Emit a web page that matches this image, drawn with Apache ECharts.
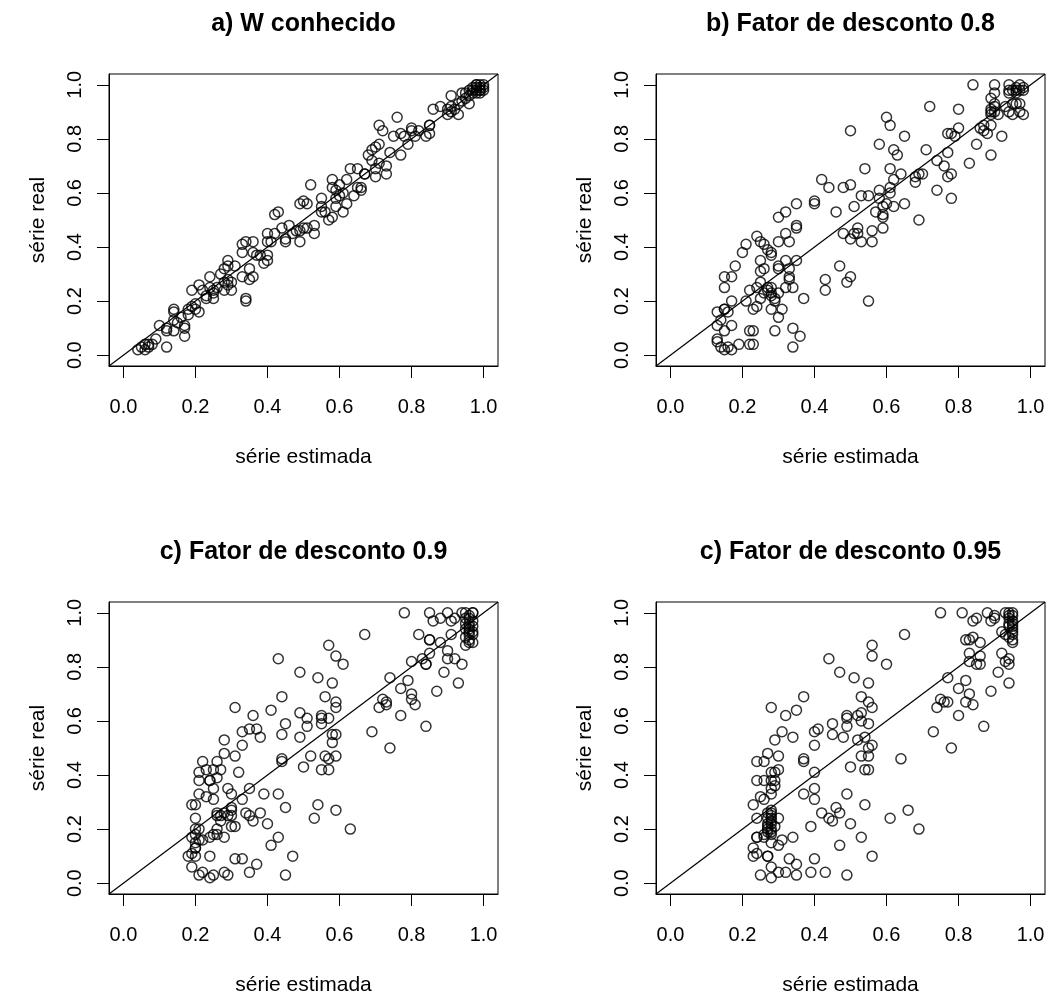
<!DOCTYPE html>
<html>
<head>
<meta charset="utf-8">
<script src="https://cdn.jsdelivr.net/npm/echarts@6/dist/echarts.min.js"></script>
<style>
  html, body { margin: 0; padding: 0; background: #fff; }
  #chart { width: 1055px; height: 998px; }
</style>
</head>
<body>
<div id="chart"></div>
<script>
// panel titles and axis names
var titles = ['a) W conhecido', 'b) Fator de desconto 0.8', 'c) Fator de desconto 0.9', 'c) Fator de desconto 0.95'];
var xName = 'série estimada';
var yName = 'série real';
var tickValues = [0, 0.2, 0.4, 0.6, 0.8, 1.0];

// [série estimada, série real]
var pointsA = [
  [0.04,0.02],[0.05,0.03],[0.06,0.04],[0.07,0.04],[0.07,0.03],[0.06,0.02],[0.08,0.04],[0.09,0.06],[0.12,0.03],
  [0.10,0.11],[0.12,0.09],[0.12,0.10],[0.14,0.17],[0.14,0.16],[0.14,0.13],[0.15,0.12],[0.14,0.09],[0.17,0.11],
  [0.17,0.10],[0.17,0.07],[0.16,0.14],[0.18,0.15],[0.18,0.17],[0.19,0.18],[0.20,0.17],[0.21,0.16],[0.20,0.19],
  [0.19,0.24],[0.21,0.26],[0.22,0.24],[0.23,0.22],[0.23,0.21],[0.24,0.25],[0.24,0.29],[0.25,0.23],[0.25,0.21],
  [0.25,0.24],[0.26,0.25],[0.27,0.30],[0.28,0.27],[0.28,0.24],[0.29,0.26],[0.29,0.28],[0.30,0.27],[0.30,0.24],
  [0.29,0.33],[0.29,0.35],[0.31,0.33],[0.28,0.32],[0.34,0.21],[0.34,0.20],[0.33,0.29],[0.35,0.28],[0.36,0.29],
  [0.35,0.32],[0.33,0.38],[0.33,0.41],[0.34,0.42],[0.36,0.42],[0.36,0.38],[0.37,0.37],[0.38,0.37],[0.39,0.34],
  [0.40,0.35],[0.40,0.37],[0.40,0.45],[0.40,0.42],[0.41,0.42],[0.42,0.52],[0.43,0.53],[0.42,0.45],[0.44,0.47],
  [0.45,0.42],[0.45,0.43],[0.46,0.48],[0.47,0.45],[0.49,0.42],[0.48,0.46],[0.49,0.46],[0.50,0.47],[0.51,0.47],
  [0.53,0.45],[0.53,0.48],[0.49,0.56],[0.50,0.57],[0.51,0.56],[0.52,0.63],[0.55,0.58],[0.55,0.55],[0.55,0.53],
  [0.56,0.53],[0.57,0.50],[0.58,0.65],[0.58,0.62],[0.58,0.51],[0.59,0.58],[0.59,0.61],[0.59,0.55],[0.60,0.63],
  [0.60,0.59],[0.61,0.53],[0.61,0.60],[0.62,0.56],[0.62,0.65],[0.63,0.69],[0.64,0.59],[0.65,0.62],[0.65,0.69],
  [0.66,0.62],[0.66,0.61],[0.67,0.67],[0.67,0.67],[0.68,0.74],[0.69,0.72],[0.69,0.76],[0.70,0.77],[0.70,0.69],
  [0.70,0.66],[0.71,0.71],[0.71,0.78],[0.73,0.67],[0.73,0.70],[0.74,0.75],[0.71,0.85],[0.72,0.83],[0.75,0.81],
  [0.76,0.88],[0.77,0.74],[0.77,0.82],[0.78,0.81],[0.79,0.78],[0.80,0.84],[0.80,0.83],[0.81,0.81],[0.82,0.83],
  [0.84,0.81],[0.85,0.82],[0.85,0.85],[0.85,0.85],[0.86,0.91],[0.88,0.92],[0.90,0.91],[0.90,0.89],[0.91,0.92],
  [0.91,0.96],[0.91,0.90],[0.92,0.91],[0.93,0.89],[0.93,0.93],[0.94,0.97],[0.94,0.94],[0.95,0.95],[0.95,0.97],
  [0.96,0.93],[0.96,0.98],[0.97,0.97],[0.97,0.99],[0.98,0.99],[0.98,1.00],[0.98,1.00],[0.99,1.00],[0.99,0.98],
  [0.99,0.97],[0.98,0.98],[1.00,1.00],[1.00,0.98],[0.99,0.99],[0.98,0.97],[1.00,0.99],[0.97,0.98],[0.99,0.98],
  [0.96,0.96]
];

var pointsB = [
  [0.13,0.06],[0.13,0.05],[0.14,0.03],[0.15,0.02],[0.16,0.03],[0.17,0.02],[0.19,0.04],[0.22,0.04],[0.23,0.04],
  [0.22,0.09],[0.23,0.09],[0.29,0.09],[0.34,0.03],[0.34,0.10],[0.36,0.07],[0.13,0.11],[0.14,0.13],[0.15,0.09],
  [0.17,0.11],[0.13,0.16],[0.15,0.17],[0.15,0.17],[0.16,0.16],[0.17,0.20],[0.15,0.25],[0.15,0.29],[0.17,0.29],
  [0.18,0.33],[0.21,0.20],[0.22,0.24],[0.23,0.17],[0.24,0.18],[0.24,0.25],[0.25,0.27],[0.25,0.21],[0.26,0.23],
  [0.27,0.24],[0.27,0.25],[0.28,0.22],[0.28,0.25],[0.28,0.23],[0.29,0.20],[0.29,0.21],[0.30,0.23],[0.28,0.17],
  [0.31,0.17],[0.30,0.14],[0.32,0.25],[0.33,0.28],[0.33,0.29],[0.34,0.25],[0.37,0.21],[0.25,0.31],[0.25,0.35],
  [0.26,0.32],[0.30,0.32],[0.30,0.33],[0.32,0.35],[0.33,0.32],[0.35,0.35],[0.20,0.38],[0.21,0.41],[0.24,0.44],
  [0.25,0.42],[0.26,0.41],[0.27,0.39],[0.28,0.38],[0.28,0.37],[0.30,0.42],[0.33,0.42],[0.32,0.45],[0.35,0.47],
  [0.35,0.48],[0.30,0.51],[0.32,0.53],[0.35,0.56],[0.40,0.56],[0.40,0.57],[0.42,0.65],[0.44,0.62],[0.46,0.53],
  [0.48,0.45],[0.48,0.62],[0.50,0.43],[0.50,0.63],[0.51,0.45],[0.52,0.47],[0.52,0.45],[0.53,0.42],[0.56,0.42],
  [0.56,0.46],[0.50,0.83],[0.43,0.28],[0.43,0.24],[0.47,0.33],[0.49,0.27],[0.50,0.29],[0.55,0.20],[0.51,0.55],
  [0.53,0.59],[0.54,0.69],[0.55,0.59],[0.57,0.53],[0.58,0.61],[0.58,0.58],[0.58,0.78],[0.59,0.55],[0.59,0.51],
  [0.59,0.52],[0.59,0.47],[0.60,0.56],[0.60,0.88],[0.61,0.85],[0.61,0.60],[0.61,0.69],[0.61,0.62],[0.62,0.76],
  [0.62,0.55],[0.62,0.65],[0.63,0.74],[0.64,0.67],[0.65,0.81],[0.65,0.56],[0.68,0.64],[0.68,0.66],[0.69,0.67],
  [0.69,0.50],[0.70,0.67],[0.71,0.76],[0.72,0.92],[0.74,0.72],[0.74,0.61],[0.76,0.70],[0.77,0.82],[0.77,0.66],
  [0.77,0.75],[0.78,0.67],[0.78,0.58],[0.78,0.82],[0.79,0.81],[0.80,0.84],[0.80,0.91],[0.83,0.71],[0.84,1.00],
  [0.85,0.78],[0.86,0.84],[0.87,0.83],[0.87,0.85],[0.88,0.82],[0.89,0.85],[0.89,0.74],[0.89,0.91],[0.90,0.90],
  [0.89,0.95],[0.90,1.00],[0.90,0.97],[0.91,0.89],[0.92,0.81],[0.93,0.92],[0.94,1.00],[0.94,0.97],[0.94,0.90],
  [0.95,0.89],[0.95,0.93],[0.96,0.98],[0.96,0.97],[0.96,0.93],[0.97,0.90],[0.97,1.00],[0.98,0.98],[0.98,0.89],
  [0.98,0.99],[0.97,0.98],[0.96,0.99],[0.95,0.98],[0.94,0.98],[0.97,0.93],[0.89,0.89],[0.90,0.92],[0.89,0.90],
  [0.90,0.93]
];

var pointsC = [
  [0.21,0.03],[0.22,0.04],[0.24,0.02],[0.25,0.03],[0.28,0.04],[0.29,0.03],[0.35,0.04],[0.37,0.07],[0.45,0.03],
  [0.19,0.06],[0.18,0.10],[0.19,0.11],[0.20,0.10],[0.20,0.13],[0.20,0.13],[0.21,0.16],[0.20,0.15],[0.20,0.18],
  [0.19,0.17],[0.20,0.20],[0.21,0.20],[0.22,0.16],[0.24,0.10],[0.24,0.17],[0.25,0.18],[0.26,0.18],[0.26,0.20],
  [0.28,0.17],[0.20,0.24],[0.19,0.29],[0.20,0.29],[0.21,0.33],[0.23,0.32],[0.25,0.31],[0.26,0.26],[0.26,0.25],
  [0.27,0.23],[0.27,0.25],[0.28,0.26],[0.29,0.25],[0.30,0.27],[0.30,0.25],[0.30,0.28],[0.30,0.21],[0.31,0.21],
  [0.31,0.09],[0.33,0.09],[0.34,0.26],[0.35,0.25],[0.36,0.23],[0.38,0.26],[0.40,0.22],[0.41,0.14],[0.43,0.17],
  [0.47,0.10],[0.45,0.28],[0.43,0.33],[0.39,0.33],[0.35,0.35],[0.33,0.31],[0.30,0.33],[0.29,0.35],[0.25,0.35],
  [0.24,0.38],[0.24,0.38],[0.21,0.38],[0.21,0.41],[0.22,0.45],[0.23,0.42],[0.25,0.42],[0.26,0.39],[0.26,0.45],
  [0.27,0.42],[0.28,0.48],[0.31,0.47],[0.32,0.41],[0.33,0.51],[0.33,0.56],[0.35,0.57],[0.37,0.57],[0.38,0.54],
  [0.28,0.53],[0.31,0.65],[0.36,0.62],[0.41,0.64],[0.44,0.55],[0.44,0.69],[0.45,0.59],[0.44,0.46],[0.44,0.45],
  [0.43,0.83],[0.49,0.78],[0.49,0.63],[0.49,0.54],[0.50,0.43],[0.51,0.61],[0.51,0.58],[0.52,0.47],[0.53,0.24],
  [0.54,0.29],[0.54,0.76],[0.55,0.59],[0.55,0.62],[0.55,0.42],[0.55,0.61],[0.56,0.47],[0.56,0.69],[0.57,0.42],
  [0.57,0.61],[0.57,0.88],[0.57,0.46],[0.58,0.55],[0.58,0.74],[0.58,0.52],[0.59,0.55],[0.59,0.84],[0.59,0.47],
  [0.59,0.27],[0.59,0.67],[0.59,0.65],[0.61,0.81],[0.63,0.20],[0.67,0.92],[0.69,0.56],[0.71,0.65],[0.72,0.68],
  [0.73,0.66],[0.73,0.67],[0.74,0.50],[0.74,0.76],[0.77,0.72],[0.77,0.62],[0.78,1.00],[0.79,0.75],[0.80,0.70],
  [0.80,0.68],[0.81,0.66],[0.80,0.82],[0.82,0.92],[0.83,0.83],[0.84,0.81],[0.84,0.81],[0.84,0.58],[0.85,1.00],
  [0.85,0.90],[0.85,0.90],[0.85,0.85],[0.86,0.97],[0.87,0.71],[0.88,0.98],[0.88,0.89],[0.89,0.78],[0.90,0.86],
  [0.90,1.00],[0.90,0.83],[0.91,0.97],[0.91,0.92],[0.92,0.98],[0.92,0.83],[0.93,0.74],[0.94,0.81],[0.94,1.00],
  [0.95,0.96],[0.95,0.98],[0.96,0.92],[0.96,0.89],[0.95,0.88],[0.97,1.00],[0.97,0.95],[0.96,0.93],[0.96,0.94],
  [0.97,0.92],[0.95,0.91],[0.95,1.00],[0.96,0.96],[0.97,1.00],[0.96,0.99],[0.97,0.97],[0.96,0.90],[0.97,0.89],
  [0.95,0.94],[0.96,0.95],[0.97,0.93],[0.96,0.98]
];

var pointsD = [
  [0.25,0.03],[0.28,0.02],[0.30,0.04],[0.32,0.04],[0.35,0.03],[0.39,0.04],[0.43,0.04],[0.49,0.03],[0.28,0.06],
  [0.27,0.10],[0.27,0.10],[0.23,0.13],[0.23,0.10],[0.24,0.11],[0.30,0.14],[0.33,0.09],[0.35,0.07],[0.40,0.09],
  [0.47,0.14],[0.56,0.10],[0.24,0.17],[0.24,0.17],[0.26,0.17],[0.26,0.18],[0.27,0.20],[0.27,0.21],[0.27,0.22],
  [0.28,0.23],[0.28,0.24],[0.28,0.26],[0.28,0.25],[0.28,0.19],[0.28,0.20],[0.29,0.21],[0.28,0.15],[0.30,0.24],
  [0.31,0.16],[0.34,0.17],[0.39,0.21],[0.42,0.26],[0.44,0.24],[0.45,0.23],[0.46,0.28],[0.47,0.26],[0.50,0.22],
  [0.53,0.17],[0.54,0.29],[0.61,0.24],[0.66,0.27],[0.69,0.20],[0.24,0.24],[0.25,0.32],[0.23,0.29],[0.26,0.31],
  [0.28,0.33],[0.28,0.35],[0.29,0.36],[0.29,0.38],[0.28,0.38],[0.26,0.38],[0.24,0.38],[0.24,0.45],[0.26,0.45],
  [0.27,0.48],[0.28,0.41],[0.29,0.41],[0.30,0.42],[0.30,0.47],[0.29,0.53],[0.31,0.56],[0.34,0.54],[0.32,0.62],
  [0.35,0.64],[0.37,0.69],[0.28,0.65],[0.37,0.33],[0.40,0.31],[0.40,0.35],[0.40,0.41],[0.37,0.46],[0.37,0.45],
  [0.40,0.51],[0.40,0.56],[0.41,0.57],[0.45,0.55],[0.45,0.59],[0.48,0.54],[0.49,0.62],[0.49,0.61],[0.49,0.58],
  [0.50,0.43],[0.49,0.33],[0.52,0.62],[0.52,0.53],[0.53,0.47],[0.53,0.69],[0.53,0.60],[0.54,0.54],[0.54,0.42],
  [0.55,0.42],[0.55,0.47],[0.55,0.50],[0.55,0.67],[0.55,0.59],[0.56,0.65],[0.56,0.51],[0.55,0.74],[0.53,0.63],
  [0.56,0.84],[0.56,0.88],[0.51,0.76],[0.47,0.78],[0.44,0.83],[0.60,0.81],[0.64,0.46],[0.65,0.92],[0.73,0.56],
  [0.74,0.65],[0.75,0.68],[0.76,0.67],[0.77,0.67],[0.77,0.76],[0.78,0.50],[0.80,0.72],[0.80,0.62],[0.82,0.75],
  [0.82,0.67],[0.83,0.70],[0.84,0.66],[0.83,0.82],[0.83,0.85],[0.82,0.90],[0.83,0.90],[0.84,0.91],[0.86,0.89],
  [0.85,0.81],[0.86,0.81],[0.86,0.84],[0.87,0.58],[0.89,0.71],[0.91,0.78],[0.75,1.00],[0.81,1.00],[0.84,0.97],
  [0.85,0.98],[0.88,1.00],[0.89,0.97],[0.90,0.98],[0.90,0.99],[0.92,0.85],[0.93,0.82],[0.94,0.83],[0.94,0.81],
  [0.94,0.74],[0.92,0.93],[0.93,0.92],[0.93,1.00],[0.94,1.00],[0.94,0.98],[0.95,0.96],[0.95,0.93],[0.95,0.90],
  [0.95,0.89],[0.94,0.91],[0.95,1.00],[0.94,0.96],[0.95,0.99],[0.95,0.97],[0.95,0.95],[0.95,0.94],[0.94,0.99],
  [0.95,0.92],[0.94,0.95],[0.27,0.19],[0.27,0.24],[0.28,0.27],[0.28,0.22],[0.27,0.26],[0.28,0.18]
];

var panels = [pointsA, pointsB, pointsC, pointsD];

var fontFamily = '"Liberation Sans", Arial, Helvetica, sans-serif';
var lefts = [109, 656, 109, 656];
var tops = [74, 74, 602, 602];
var boxW = 389, boxH = 292;

var grid = [], xAxis = [], yAxis = [], series = [], title = [];
for (var i = 0; i < 4; i++) {
  grid.push({
    left: lefts[i], top: tops[i], width: boxW, height: boxH,
    show: true, borderColor: '#000', borderWidth: 1, backgroundColor: 'transparent'
  });
  title.push({
    text: titles[i],
    left: lefts[i] + boxW / 2,
    top: tops[i] - 62,
    textAlign: 'center',
    padding: 0,
    textStyle: { fontFamily: fontFamily, fontSize: 25, fontWeight: 'bold', color: '#000' }
  });
  xAxis.push({
    gridIndex: i, type: 'value', min: -0.04, max: 1.04,
    name: xName, nameLocation: 'middle', nameGap: 81,
    nameTextStyle: { fontFamily: fontFamily, fontSize: 21, color: '#000' },
    axisLine: { show: true, onZero: false, lineStyle: { color: '#000', width: 1 } },
    axisTick: { show: true, length: 12, lineStyle: { color: '#000', width: 1 }, customValues: tickValues },
    axisLabel: {
      fontFamily: fontFamily, fontSize: 20, color: '#000', margin: 31,
      customValues: tickValues,
      formatter: function (v) { return v.toFixed(1); }
    },
    splitLine: { show: false }
  });
  yAxis.push({
    gridIndex: i, type: 'value', min: -0.04, max: 1.04,
    name: yName, nameLocation: 'middle', nameGap: 60, nameRotate: 90,
    nameTextStyle: { fontFamily: fontFamily, fontSize: 21, color: '#000' },
    axisLine: { show: true, onZero: false, lineStyle: { color: '#000', width: 1 } },
    axisTick: { show: true, length: 12, lineStyle: { color: '#000', width: 1 }, customValues: tickValues },
    axisLabel: {
      fontFamily: fontFamily, fontSize: 20, color: '#000', margin: 24, rotate: 90,
      customValues: tickValues,
      formatter: function (v) { return v.toFixed(1); }
    },
    splitLine: { show: false }
  });
  // identity line
  series.push({
    type: 'line', xAxisIndex: i, yAxisIndex: i,
    data: [[-0.04, -0.04], [1.04, 1.04]],
    symbol: 'none', silent: true, animation: false,
    lineStyle: { color: '#000', width: 1.2 }
  });
  series.push({
    type: 'scatter', xAxisIndex: i, yAxisIndex: i,
    data: panels[i],
    symbol: 'circle', symbolSize: 10, animation: false,
    itemStyle: { color: 'rgba(0,0,0,0)', borderColor: '#000', borderWidth: 1.5 }
  });
}

var myChart = echarts.init(document.getElementById('chart'), null, { renderer: 'canvas' });
myChart.setOption({
  backgroundColor: '#fff',
  animation: false,
  title: title,
  grid: grid,
  xAxis: xAxis,
  yAxis: yAxis,
  series: series
});
</script>
</body>
</html>
